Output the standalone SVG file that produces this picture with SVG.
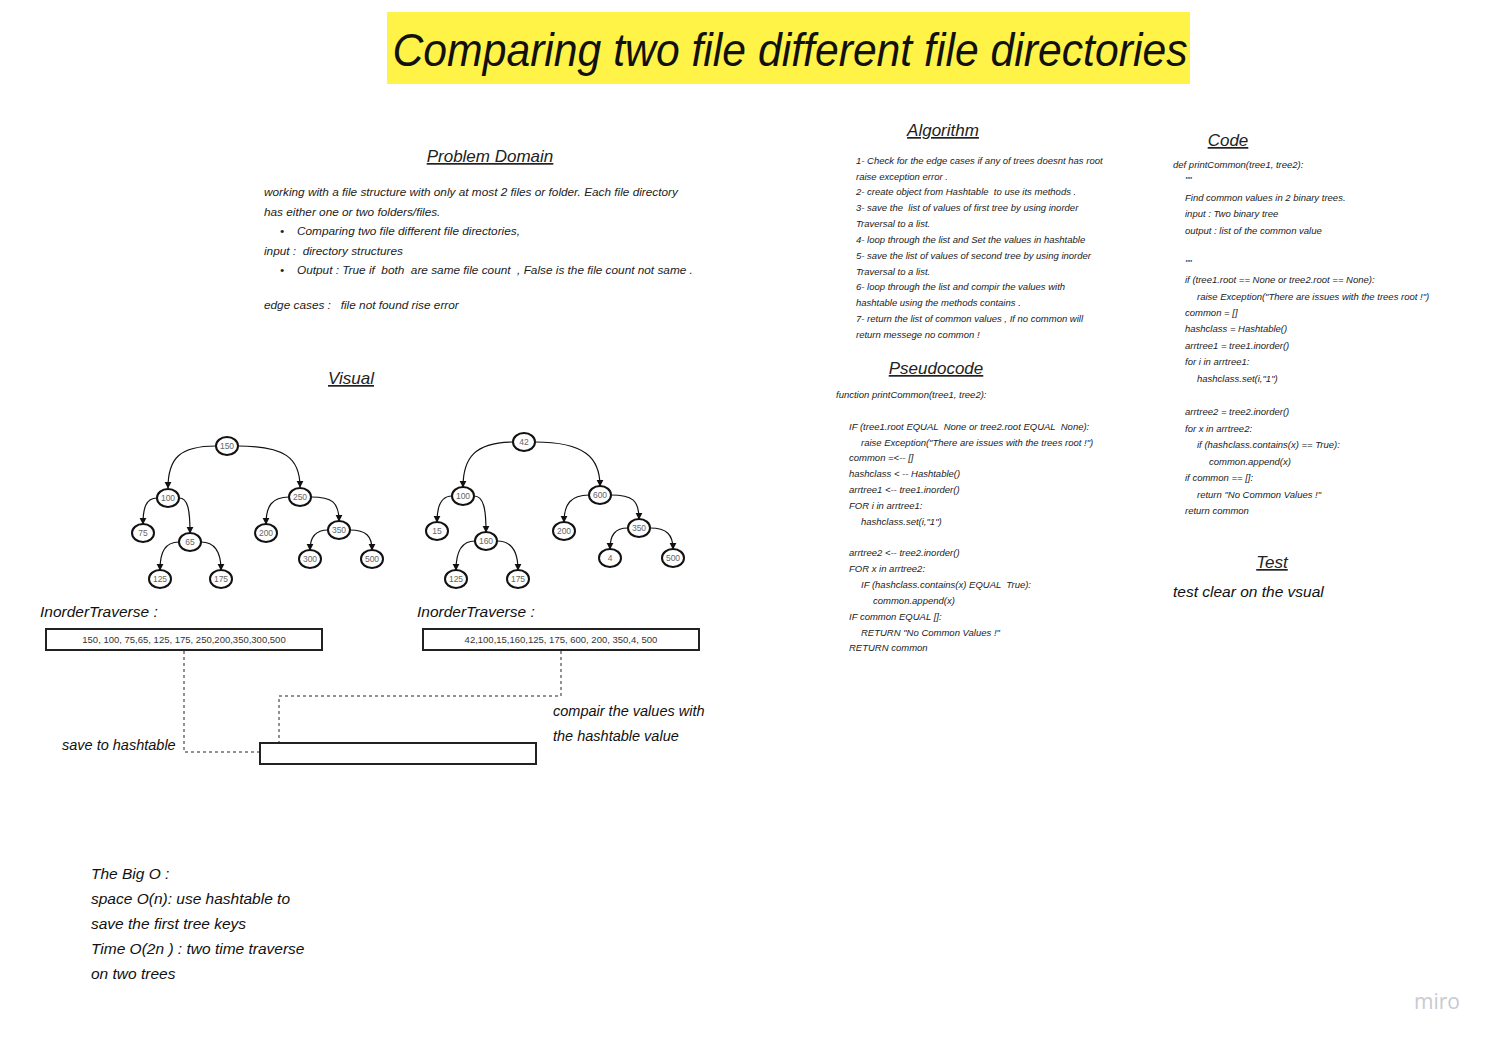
<svg xmlns="http://www.w3.org/2000/svg" width="1496" height="1044" viewBox="0 0 1496 1044">
<style>
text{font-family:"Liberation Sans",Arial,sans-serif;font-style:italic;fill:#222;white-space:pre}
.h{font-size:17px;text-decoration:underline}
.pd{font-size:11.8px}
.sm{font-size:9.5px}
.big{font-size:15.5px;fill:#111}
.nd ellipse{fill:#fff;stroke:#111;stroke-width:2}
.nd text{font-style:normal;font-size:8.5px;fill:#666;text-anchor:middle}
.e{fill:none;stroke:#111;stroke-width:1.2}
.box{fill:#fff;stroke:#222;stroke-width:2}
.bt{font-style:normal;font-size:9.5px;text-anchor:middle;fill:#333}
.dash{fill:none;stroke:#222;stroke-width:1;stroke-dasharray:3 3}
.lb{font-size:14.5px;fill:#111}
</style>
<defs>
<marker id="ar" viewBox="0 0 10 10" refX="9" refY="5" markerWidth="7" markerHeight="9" orient="auto" markerUnits="userSpaceOnUse"><path d="M0,0L10,5L0,10z" fill="#111"/></marker>
</defs>
<rect width="1496" height="1044" fill="#fff"/>
<g id="title">
<rect x="387" y="12" width="803" height="72" fill="#fff347"/>
<text x="790" y="66" text-anchor="middle" style="font-size:46px;fill:#111" textLength="795" lengthAdjust="spacingAndGlyphs">Comparing two file different file directories</text>
</g>
<g id="problem-domain">
<text class="h" x="490" y="162" text-anchor="middle">Problem Domain</text>
<text class="pd" x="264" y="196">working with a file structure with only at most 2 files or folder. Each file directory</text>
<text class="pd" x="264" y="216">has either one or two folders/files.</text>
<text class="pd" x="280" y="235">•</text><text class="pd" x="297" y="235">Comparing two file different file directories,</text>
<text class="pd" x="264" y="255">input :  directory structures</text>
<text class="pd" x="280" y="274">•</text><text class="pd" x="297" y="274">Output : True if  both  are same file count  , False is the file count not same .</text>
<text class="pd" x="264" y="309">edge cases :   file not found rise error</text>
</g>
<g id="algorithm">
<text class="h" x="943" y="136" text-anchor="middle">Algorithm</text>
<text class="sm" x="856" y="164">1- Check for the edge cases if any of trees doesnt has root</text>
<text class="sm" x="856" y="180">raise exception error .</text>
<text class="sm" x="856" y="195">2- create object from Hashtable  to use its methods .</text>
<text class="sm" x="856" y="211">3- save the  list of values of first tree by using inorder</text>
<text class="sm" x="856" y="227">Traversal to a list.</text>
<text class="sm" x="856" y="243">4- loop through the list and Set the values in hashtable</text>
<text class="sm" x="856" y="259">5- save the list of values of second tree by using inorder</text>
<text class="sm" x="856" y="275">Traversal to a list.</text>
<text class="sm" x="856" y="290">6- loop through the list and compir the values with</text>
<text class="sm" x="856" y="306">hashtable using the methods contains .</text>
<text class="sm" x="856" y="322">7- return the list of common values , If no common will</text>
<text class="sm" x="856" y="338">return messege no common !</text>
</g>
<g id="pseudocode">
<text class="h" x="936" y="374" text-anchor="middle">Pseudocode</text>
<text class="sm" x="836" y="398">function printCommon(tree1, tree2):</text>
<text class="sm" x="849" y="430">IF (tree1.root EQUAL  None or tree2.root EQUAL  None):</text>
<text class="sm" x="861" y="446">raise Exception("There are issues with the trees root !")</text>
<text class="sm" x="849" y="461">common =&lt;-- []</text>
<text class="sm" x="849" y="477">hashclass &lt; -- Hashtable()</text>
<text class="sm" x="849" y="493">arrtree1 &lt;-- tree1.inorder()</text>
<text class="sm" x="849" y="509">FOR i in arrtree1:</text>
<text class="sm" x="861" y="525">hashclass.set(i,"1")</text>
<text class="sm" x="849" y="556">arrtree2 &lt;-- tree2.inorder()</text>
<text class="sm" x="849" y="572">FOR x in arrtree2:</text>
<text class="sm" x="861" y="588">IF (hashclass.contains(x) EQUAL  True):</text>
<text class="sm" x="873" y="604">common.append(x)</text>
<text class="sm" x="849" y="620">IF common EQUAL []:</text>
<text class="sm" x="861" y="636">RETURN "No Common Values !"</text>
<text class="sm" x="849" y="651">RETURN common</text>
</g>
<g id="code">
<text class="h" x="1228" y="146" text-anchor="middle">Code</text>
<text class="sm" x="1173" y="168">def printCommon(tree1, tree2):</text>
<text class="sm" x="1185" y="183">""</text>
<text class="sm" x="1185" y="201">Find common values in 2 binary trees.</text>
<text class="sm" x="1185" y="217">input : Two binary tree</text>
<text class="sm" x="1185" y="234">output : list of the common value</text>
<text class="sm" x="1185" y="266">""</text>
<text class="sm" x="1185" y="283">if (tree1.root == None or tree2.root == None):</text>
<text class="sm" x="1197" y="300">raise Exception("There are issues with the trees root !")</text>
<text class="sm" x="1185" y="316">common = []</text>
<text class="sm" x="1185" y="332">hashclass = Hashtable()</text>
<text class="sm" x="1185" y="349">arrtree1 = tree1.inorder()</text>
<text class="sm" x="1185" y="365">for i in arrtree1:</text>
<text class="sm" x="1197" y="382">hashclass.set(i,"1")</text>
<text class="sm" x="1185" y="415">arrtree2 = tree2.inorder()</text>
<text class="sm" x="1185" y="432">for x in arrtree2:</text>
<text class="sm" x="1197" y="448">if (hashclass.contains(x) == True):</text>
<text class="sm" x="1209" y="465">common.append(x)</text>
<text class="sm" x="1185" y="481">if common == []:</text>
<text class="sm" x="1197" y="498">return "No Common Values !"</text>
<text class="sm" x="1185" y="514">return common</text>
</g>
<g id="test">
<text class="h" x="1272" y="568" text-anchor="middle">Test</text>
<text class="big" x="1173" y="597">test clear on the vsual</text>
</g>
<g id="visual-heading">
<text class="h" x="351" y="384" text-anchor="middle">Visual</text>
</g>
<g id="connectors">
<path class="e" marker-end="url(#ar)" d="M216,446 C180,446 168,458 168,488"/>
<path class="e" marker-end="url(#ar)" d="M238,446 C285,446 300,458 300,487"/>
<path class="e" marker-end="url(#ar)" d="M157,498 C146,498 143,508 143,524"/>
<path class="e" marker-end="url(#ar)" d="M179,498 C188,498 190,510 190,533"/>
<path class="e" marker-end="url(#ar)" d="M179,542 C165,542 160,552 160,570"/>
<path class="e" marker-end="url(#ar)" d="M201,542 C215,542 221,552 221,570"/>
<path class="e" marker-end="url(#ar)" d="M289,497 C272,497 266,506 266,524"/>
<path class="e" marker-end="url(#ar)" d="M311,497 C332,497 339,502 339,521"/>
<path class="e" marker-end="url(#ar)" d="M328,530 C316,530 310,536 310,550"/>
<path class="e" marker-end="url(#ar)" d="M350,530 C366,530 372,536 372,550"/>
<path class="e" marker-end="url(#ar)" d="M513,442 C475,442 463,458 463,487"/>
<path class="e" marker-end="url(#ar)" d="M535,442 C585,442 600,458 600,486"/>
<path class="e" marker-end="url(#ar)" d="M452,496 C441,496 437,506 437,522"/>
<path class="e" marker-end="url(#ar)" d="M474,496 C484,496 486,510 486,532"/>
<path class="e" marker-end="url(#ar)" d="M475,541 C461,541 456,552 456,570"/>
<path class="e" marker-end="url(#ar)" d="M497,541 C512,541 518,552 518,570"/>
<path class="e" marker-end="url(#ar)" d="M589,495 C571,495 564,504 564,522"/>
<path class="e" marker-end="url(#ar)" d="M611,495 C632,495 639,500 639,519"/>
<path class="e" marker-end="url(#ar)" d="M628,528 C615,528 610,535 610,549"/>
<path class="e" marker-end="url(#ar)" d="M650,528 C667,528 673,535 673,549"/>
<path class="dash" d="M184,651 V752 H259"/>
<path class="dash" d="M561,651 V696 H279 V742"/>
</g>
<g id="tree1">
<g class="nd" id="t1-150"><ellipse cx="227" cy="446" rx="11" ry="9"/><text x="227" y="449">150</text></g>
<g class="nd" id="t1-100"><ellipse cx="168" cy="498" rx="11" ry="9"/><text x="168" y="501">100</text></g>
<g class="nd" id="t1-75"><ellipse cx="143" cy="533" rx="11" ry="9"/><text x="143" y="536">75</text></g>
<g class="nd" id="t1-65"><ellipse cx="190" cy="542" rx="11" ry="9"/><text x="190" y="545">65</text></g>
<g class="nd" id="t1-125"><ellipse cx="160" cy="579" rx="11" ry="9"/><text x="160" y="582">125</text></g>
<g class="nd" id="t1-175"><ellipse cx="221" cy="579" rx="11" ry="9"/><text x="221" y="582">175</text></g>
<g class="nd" id="t1-250"><ellipse cx="300" cy="497" rx="11" ry="9"/><text x="300" y="500">250</text></g>
<g class="nd" id="t1-200"><ellipse cx="266" cy="533" rx="11" ry="9"/><text x="266" y="536">200</text></g>
<g class="nd" id="t1-350"><ellipse cx="339" cy="530" rx="11" ry="9"/><text x="339" y="533">350</text></g>
<g class="nd" id="t1-300"><ellipse cx="310" cy="559" rx="11" ry="9"/><text x="310" y="562">300</text></g>
<g class="nd" id="t1-500"><ellipse cx="372" cy="559" rx="11" ry="9"/><text x="372" y="562">500</text></g>
</g>
<g id="tree2">
<g class="nd" id="t2-42"><ellipse cx="524" cy="442" rx="11" ry="9"/><text x="524" y="445">42</text></g>
<g class="nd" id="t2-100"><ellipse cx="463" cy="496" rx="11" ry="9"/><text x="463" y="499">100</text></g>
<g class="nd" id="t2-15"><ellipse cx="437" cy="531" rx="11" ry="9"/><text x="437" y="534">15</text></g>
<g class="nd" id="t2-160"><ellipse cx="486" cy="541" rx="11" ry="9"/><text x="486" y="544">160</text></g>
<g class="nd" id="t2-125"><ellipse cx="456" cy="579" rx="11" ry="9"/><text x="456" y="582">125</text></g>
<g class="nd" id="t2-175"><ellipse cx="518" cy="579" rx="11" ry="9"/><text x="518" y="582">175</text></g>
<g class="nd" id="t2-600"><ellipse cx="600" cy="495" rx="11" ry="9"/><text x="600" y="498">600</text></g>
<g class="nd" id="t2-200"><ellipse cx="564" cy="531" rx="11" ry="9"/><text x="564" y="534">200</text></g>
<g class="nd" id="t2-350"><ellipse cx="639" cy="528" rx="11" ry="9"/><text x="639" y="531">350</text></g>
<g class="nd" id="t2-4"><ellipse cx="610" cy="558" rx="11" ry="9"/><text x="610" y="561">4</text></g>
<g class="nd" id="t2-500"><ellipse cx="673" cy="558" rx="11" ry="9"/><text x="673" y="561">500</text></g>
</g>
<g id="inorder1">
<text class="big" x="40" y="617">InorderTraverse :</text>
<rect class="box" x="46" y="629" width="276" height="21"/>
<text class="bt" x="184" y="643">150, 100, 75,65, 125, 175, 250,200,350,300,500</text>
</g>
<g id="inorder2">
<text class="big" x="417" y="617">InorderTraverse :</text>
<rect class="box" x="423" y="629" width="276" height="21"/>
<text class="bt" x="561" y="643">42,100,15,160,125, 175, 600, 200, 350,4, 500</text>
</g>
<g id="hashtable">
<rect class="box" x="260" y="743" width="276" height="21"/>
</g>
<g id="labels">
<text class="lb" x="62" y="750">save to hashtable</text>
<text class="lb" x="553" y="716">compair the values with</text>
<text class="lb" x="553" y="741">the hashtable value</text>
</g>
<g id="big-o">
<text class="big" x="91" y="879">The Big O :</text>
<text class="big" x="91" y="904">space O(n): use hashtable to</text>
<text class="big" x="91" y="929">save the first tree keys</text>
<text class="big" x="91" y="954">Time O(2n ) : two time traverse</text>
<text class="big" x="91" y="979">on two trees</text>
</g>
<text x="1437" y="1009" text-anchor="middle" style="font-style:normal;font-family:'Open Sans','DejaVu Sans',sans-serif;font-size:21px;fill:#c9c9d2">miro</text>
</svg>
